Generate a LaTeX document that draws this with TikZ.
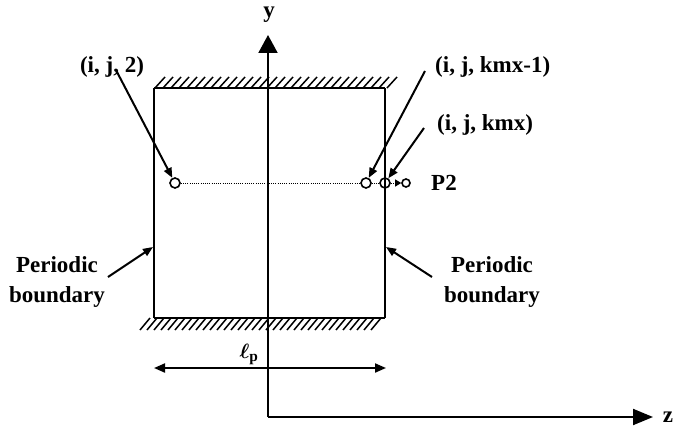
\documentclass[tikz,border=0pt]{standalone}
\usepackage{fontspec}
\usepackage{amsmath}
\setmainfont{Liberation Serif}
\usetikzlibrary{arrows.meta}
\begin{document}
\begin{tikzpicture}[x=1pt,y=-1pt,
  wall/.style={line width=2pt},
  hatch/.style={line width=1.5pt},
  lbl/.style={font=\fontsize{23}{30}\selectfont\bfseries, inner sep=0pt, align=center},
  ptr/.style={line width=2pt, -{Triangle[length=10pt,width=8pt]}},
  pt/.style={circle, draw, line width=1.6pt, minimum size=10pt, inner sep=0pt},
  dots/.style={dash pattern=on 1pt off 1.2pt, line width=1pt}
]
\useasboundingbox (0,0) rectangle (674,428);
% box
\draw[wall] (154,88) -- (385,88);
\draw[wall] (154,88) -- (154,318);
\draw[wall] (385,88) -- (385,318);
\draw[wall] (154,318) -- (385,318);
% hatching
\foreach \x in {155,163,...,389} \draw[hatch] (\x,88) -- (\x+10,77);
\foreach \x in {140,147,...,375} \draw[hatch] (\x,330) -- (\x+10,318);
% axes
\coordinate (O) at (268,417);
\coordinate (ytip) at (268,35);
\coordinate (ztip) at (653,417);
\draw[line width=2pt, -{Triangle[length=18pt,width=19pt]}] (O) -- (ytip);
\draw[line width=2pt, -{Triangle[length=20pt,width=16pt]}] (O) -- (ztip);
\node[lbl] (ylab) at (269,15) {y};
\node[lbl] (zlab) at (668,417) {z};
% points
\node[pt] (c1) at (175,183) {};
\node[pt] (c2) at (366,183) {};
\node[pt] (c3) at (385,183) {};
\node[pt, minimum size=8pt] (c4) at (406,183) {};
\draw[dots] (c1) -- (c2);
\draw[dots] (c2) -- (c3);
\draw[dots, -{Triangle[length=6pt,width=7pt]}] (c3) -- (c4);
\node[lbl, anchor=west] (p2) at (431,183) {P2};
% labels
\node[lbl] (l1) at (112,67) {(i, j, 2)};
\node[lbl, anchor=west] (l2) at (435,67) {(i, j, kmx-1)};
\node[lbl, anchor=west] (l3) at (437,125) {(i, j, kmx)};
\coordinate (a1) at (117,72);
\coordinate (a2) at (425,71);
\coordinate (a3) at (424,128);
\draw[ptr] (a1) -- (c1);
\draw[ptr] (a2) -- (c2);
\draw[ptr] (a3) -- (c3);
% periodic boundary
\node[lbl] (pl) at (57,282) {Periodic\\boundary};
\node[lbl] (pr) at (492,282) {Periodic\\boundary};
\coordinate (bl0) at (108,277);
\coordinate (bl1) at (153,247);
\coordinate (br0) at (432,277);
\coordinate (br1) at (386,247);
\draw[ptr] (bl0) -- (bl1);
\draw[ptr] (br0) -- (br1);
% length lp
\coordinate (lpa) at (154,368);
\coordinate (lpb) at (386,368);
\draw[line width=2pt, {Triangle[length=11pt,width=9pt]}-{Triangle[length=11pt,width=9pt]}] (lpa) -- (lpb);
\node[inner sep=0pt] (lp) at (249,354) {\fontsize{22}{26}\selectfont$\boldsymbol{\ell}_{\mathbf{p}}$};
\end{tikzpicture}
\end{document}
